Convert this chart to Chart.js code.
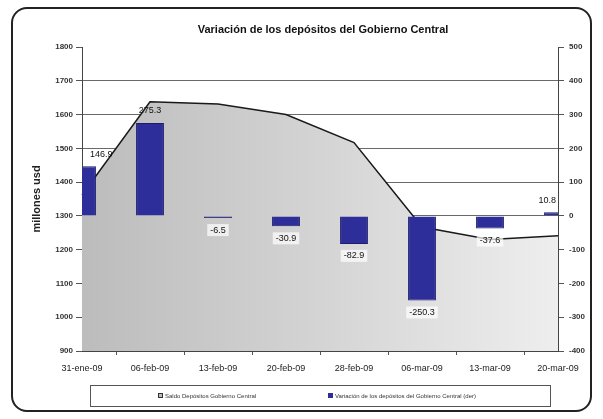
<!DOCTYPE html>
<html>
<head>
<meta charset="utf-8">
<script src="https://cdn.jsdelivr.net/npm/chart.js@4.4.0/dist/chart.umd.min.js"></script>
<style>
  html, body { margin: 0; padding: 0; background: #fff; }
  #wrap { position: relative; width: 603px; height: 419px; }
  #frame { position: absolute; left: 11px; top: 7px; width: 577px; height: 401px;
           border: 2px solid #222; border-radius: 16px; pointer-events: none; }
  canvas { position: absolute; left: 0; top: 0; }
</style>
</head>
<body>
<div id="wrap">
  <canvas id="chart" width="603" height="419"></canvas>
  <div id="frame"></div>
</div>
<script>
// ==== Data ====
const categories = ['31-ene-09', '06-feb-09', '13-feb-09', '20-feb-09', '28-feb-09', '06-mar-09', '13-mar-09', '20-mar-09'];
const saldo = [1362, 1638, 1631, 1600, 1517, 1267, 1230, 1241];
const variacion = [146.9, 275.3, -6.5, -30.9, -82.9, -250.3, -37.6, 10.8];
const leftRange = [900, 1800];
const rightRange = [-400, 500];
const tickStep = 100;

const titleText = 'Variación de los depósitos del Gobierno Central';
const saldoLabel = 'Saldo Depósitos Gobierno Central';
const variacionLabel = 'Variación de los depósitos del Gobierno Central (der)';

const FONT = '"Liberation Sans", Arial, sans-serif';
const BAR_COLOR = '#2e2e9a';

// ==== Plugins ====
const titlePlugin = {
    id: 'topTitle',
    afterDraw(chart) {
        const ctx = chart.ctx;
        const a = chart.chartArea;
        ctx.save();
        ctx.font = 'bold 11px ' + FONT;
        ctx.fillStyle = '#111';
        ctx.textAlign = 'center';
        ctx.textBaseline = 'middle';
        ctx.fillText(titleText, (a.left + a.right) / 2 + 3, 30);
        ctx.restore();
    }
};

const barLabels = {
    id: 'barLabels',
    afterDatasetsDraw(chart) {
        const meta = chart.getDatasetMeta(1);
        const ctx = chart.ctx;
        const a = chart.chartArea;
        ctx.save();
        ctx.font = '9px ' + FONT;
        ctx.textAlign = 'center';
        ctx.textBaseline = 'middle';
        meta.data.forEach((bar, i) => {
            const v = variacion[i];
            const txt = v.toFixed(1);
            const w = ctx.measureText(txt).width;
            const x = Math.min(Math.max(bar.x, a.left + w / 2 + 8), a.right - w / 2 - 2);
            const y = v >= 0 ? bar.y - 12 : bar.y + 12;
            if (v < 0) {
                ctx.fillStyle = 'rgba(255,255,255,0.7)';
                ctx.fillRect(x - w / 2 - 3, y - 6, w + 6, 12);
            }
            ctx.fillStyle = '#111';
            ctx.fillText(txt, x, y);
        });
        ctx.restore();
    }
};

const legendBox = {
    id: 'legendBox',
    afterDraw(chart) {
        const ctx = chart.ctx;
        ctx.save();
        ctx.strokeStyle = '#555';
        ctx.lineWidth = 1;
        ctx.strokeRect(90.5, 385.5, 460, 21);
        ctx.font = '6px ' + FONT;
        ctx.textBaseline = 'middle';
        ctx.fillStyle = '#bdbdbd';
        ctx.fillRect(158, 393, 5, 5);
        ctx.strokeStyle = '#333';
        ctx.strokeRect(158.5, 393.5, 4, 4);
        ctx.fillStyle = '#333';
        ctx.fillText(saldoLabel, 165, 396);
        ctx.fillStyle = BAR_COLOR;
        ctx.fillRect(328, 393, 5, 5);
        ctx.fillStyle = '#333';
        ctx.fillText(variacionLabel, 335, 396);
        ctx.restore();
    }
};

// ==== Chart ====
const ctx = document.getElementById('chart').getContext('2d');
new Chart(ctx, {
    type: 'bar',
    data: {
        labels: categories,
        datasets: [
            {
                type: 'line',
                label: saldoLabel,
                data: saldo,
                yAxisID: 'y',
                order: 2,
                fill: 'start',
                tension: 0,
                pointRadius: 0,
                borderColor: '#1a1a1a',
                borderWidth: 1.5,
                backgroundColor: (c) => {
                    const a = c.chart.chartArea;
                    if (!a) return '#cccccc';
                    const g = c.chart.ctx.createLinearGradient(a.left, 0, a.right, 0);
                    g.addColorStop(0, '#bcbcbc');
                    g.addColorStop(0.5, '#d4d4d4');
                    g.addColorStop(1, '#eeeeee');
                    return g;
                }
            },
            {
                label: variacionLabel,
                data: variacion,
                yAxisID: 'y1',
                order: 1,
                clip: 0,
                backgroundColor: BAR_COLOR,
                borderColor: '#1c1c6a',
                borderWidth: 1,
                categoryPercentage: 1,
                barPercentage: 0.41
            }
        ]
    },
    options: {
        responsive: false,
        devicePixelRatio: 1,
        animation: false,
        layout: { padding: { left: 22, right: 0, top: 47, bottom: 46 } },
        plugins: {
            legend: { display: false },
            title: { display: false },
            tooltip: { enabled: false }
        },
        scales: {
            x: {
                offset: false,
                grid: { drawOnChartArea: false, drawTicks: true, tickLength: 4, color: '#555' },
                border: { display: true, color: '#444', width: 1 },
                ticks: { color: '#222', font: { family: FONT, size: 9 }, padding: 8, maxRotation: 0, autoSkip: false },
                afterFit: (s) => { s.height = 22; }
            },
            y: {
                position: 'left',
                min: leftRange[0],
                max: leftRange[1],
                ticks: {
                    stepSize: tickStep, color: '#333', padding: 3,
                    font: { family: FONT, size: 8, weight: 'bold' },
                    callback: (v) => String(v)
                },
                grid: {
                    color: (c) => (c.tick && (c.tick.value === leftRange[1] || c.tick.value === leftRange[0])) ? 'rgba(0,0,0,0)' : '#6a6a6a',
                    tickColor: '#555',
                    tickLength: 6,
                    lineWidth: 1
                },
                border: { display: true, color: '#444', width: 1 },
                title: { display: true, text: 'millones usd', color: '#222', font: { family: FONT, size: 11, weight: 'bold' }, padding: { top: 8, bottom: 0 } },
                afterFit: (s) => { s.width = 60; }
            },
            y1: {
                position: 'right',
                min: rightRange[0],
                max: rightRange[1],
                ticks: {
                    stepSize: tickStep, color: '#333', padding: 5,
                    font: { family: FONT, size: 8, weight: 'bold' },
                    callback: (v) => String(v)
                },
                grid: { drawOnChartArea: false, drawTicks: true, tickLength: 6, tickColor: '#555' },
                border: { display: true, color: '#444', width: 1 },
                afterFit: (s) => { s.width = 45; }
            }
        }
    },
    plugins: [titlePlugin, barLabels, legendBox]
});
</script>
</body>
</html>
